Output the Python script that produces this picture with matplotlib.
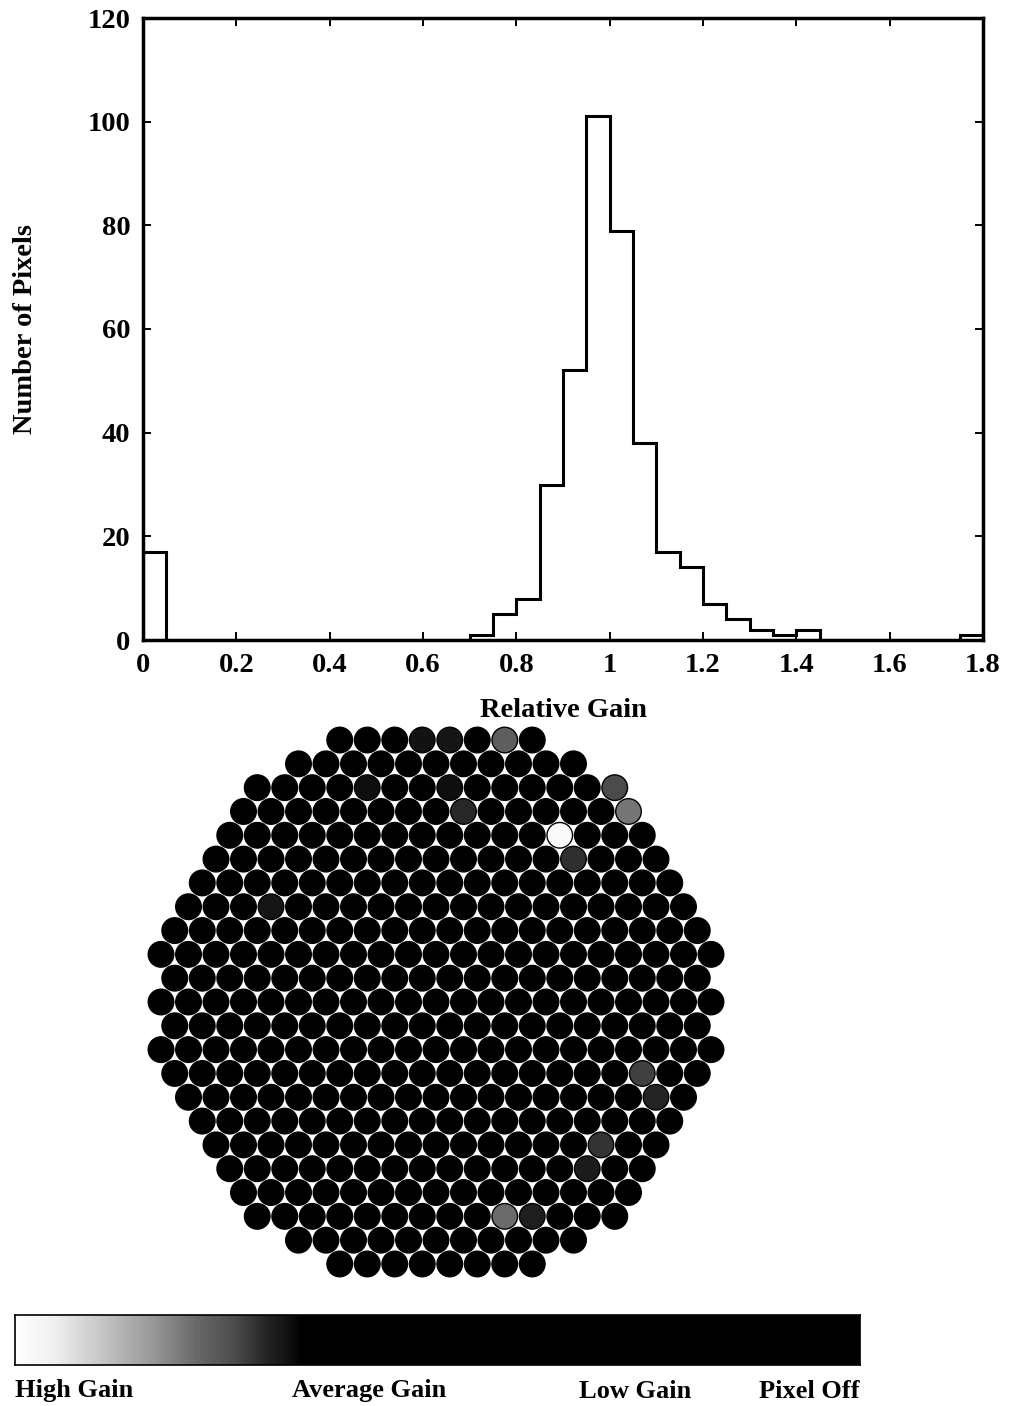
import numpy as np
import matplotlib
matplotlib.use("Agg")
import matplotlib.pyplot as plt
from matplotlib.patches import Circle
from matplotlib.colors import LinearSegmentedColormap, Normalize

plt.rcParams['font.family'] = ['Liberation Serif', 'DejaVu Serif']
plt.rcParams['font.weight'] = 'bold'

# ---------------- data ----------------
# Histogram of relative gains, 0.05-wide bins from 0 to 1.8
bin_edges = np.round(np.arange(0.0, 1.8 + 1e-9, 0.05), 2)
pixel_counts = [17, 0, 0, 0, 0, 0, 0, 0, 0, 0, 0, 0, 0, 0,
                1, 5, 8, 30, 52, 101, 79, 38, 17, 14, 7, 4, 2, 1, 2,
                0, 0, 0, 0, 0, 0, 1]

x_ticks = [0, 0.2, 0.4, 0.6, 0.8, 1.0, 1.2, 1.4, 1.6, 1.8]
x_tick_labels = ['0', '0.2', '0.4', '0.6', '0.8', '1', '1.2', '1.4', '1.6', '1.8']
y_ticks = [0, 20, 40, 60, 80, 100, 120]

# Camera layout: number of tubes in each row, top to bottom (379 tubes)
row_lengths = [8, 11, 14, 15, 16, 17, 18, 19, 20, 21, 20,
               21, 20, 21, 20, 19, 18, 17, 16, 15, 14, 11, 8]
typical_gain = 1.0
# Tubes whose gain departs from the bulk: (row, index in row, relative gain)
marked_pixels = [
    (0, 3, 1.22), (0, 4, 1.23), (0, 6, 1.38),
    (2, 4, 1.21), (2, 7, 1.21), (2, 13, 1.33),
    (3, 8, 1.27), (3, 14, 1.44),
    (4, 12, 1.77),
    (5, 13, 1.28),
    (7, 3, 1.23),
    (14, 17, 1.31),
    (15, 17, 1.26),
    (17, 14, 1.29),
    (18, 13, 1.24),
    (20, 9, 1.42), (20, 10, 1.245),
]

colorbar_labels = ['High Gain', 'Average Gain', 'Low Gain', 'Pixel Off']

# ---------------- figure ----------------
W, H = 1012, 1406
fig = plt.figure(figsize=(W / 100, H / 100), dpi=100)

# Grey scale: white for the highest gains, black from average gain down to dead tubes
gain_max = 1.8
gray_nodes = [(0.0, 0.0), (1.19, 0.0), (1.22, 0.07), (1.27, 0.15),
              (1.33, 0.29), (1.42, 0.42), (1.50, 0.58), (1.62, 0.78),
              (1.72, 0.94), (1.80, 1.0)]
cmap = LinearSegmentedColormap.from_list(
    'gain_gray', [(g / gain_max, (v, v, v)) for g, v in gray_nodes])
norm = Normalize(0.0, gain_max)

# ---- histogram ----
fs = 20.5
ax = fig.add_axes([143 / W, 1 - 640 / H, 840 / W, 622 / H])
ax.stairs(pixel_counts, bin_edges, color='black', linewidth=2.2, baseline=0)
ax.set_xlim(0, 1.8)
ax.set_ylim(0, 120)
ax.set_xticks(x_ticks)
ax.set_xticklabels(x_tick_labels)
ax.set_yticks(y_ticks)
ax.tick_params(direction='in', length=6, width=1.4, top=True, right=True,
               labelsize=fs, pad=9)
for lab in ax.get_xticklabels() + ax.get_yticklabels():
    lab.set_fontweight('bold')
for s in ax.spines.values():
    s.set_linewidth(2.5)
ax.set_xlabel('Relative Gain', fontsize=fs, fontweight='bold', labelpad=15)
ax.set_ylabel('Number of Pixels', fontsize=fs, fontweight='bold', labelpad=36)

# ---- camera map ----
pitch_px = 27.5
cx_px, cy_px = 436, 1002
left_px, right_px, top_px, bottom_px = 100, 780, 700, 1300
axc = fig.add_axes([left_px / W, 1 - bottom_px / H,
                    (right_px - left_px) / W, (bottom_px - top_px) / H])
axc.set_xlim((left_px - cx_px) / pitch_px, (right_px - cx_px) / pitch_px)
axc.set_ylim(-(bottom_px - cy_px) / pitch_px, (cy_px - top_px) / pitch_px)
axc.axis('off')

gains = {(r, c): g for r, c, g in marked_pixels}
n_rows = len(row_lengths)
row_step = np.sqrt(3) / 2
for r, n in enumerate(row_lengths):
    y = ((n_rows - 1) / 2 - r) * row_step
    for c in range(n):
        x = c - (n - 1) / 2
        g = gains.get((r, c), typical_gain)
        axc.add_patch(Circle((x, y), 0.465, facecolor=cmap(norm(g)),
                             edgecolor='black', linewidth=1.0))

# ---- gain scale bar ----
axb = fig.add_axes([15 / W, 1 - 1365 / H, 845 / W, 50 / H])
scale = np.linspace(gain_max, 0.0, 1200)[None, :]
axb.imshow(scale, cmap=cmap, norm=norm, aspect='auto', extent=[0, 1, 0, 1])
axb.set_xticks([])
axb.set_yticks([])
for s in axb.spines.values():
    s.set_linewidth(1.2)

label_x = [15, 369, 635, 860]
label_ha = ['left', 'center', 'center', 'right']
for txt, xp, ha in zip(colorbar_labels, label_x, label_ha):
    fig.text(xp / W, 1 - 1391 / H, txt, ha=ha, va='center',
             fontsize=19, fontweight='bold')

fig.savefig('out.png', dpi=100, facecolor='white')
